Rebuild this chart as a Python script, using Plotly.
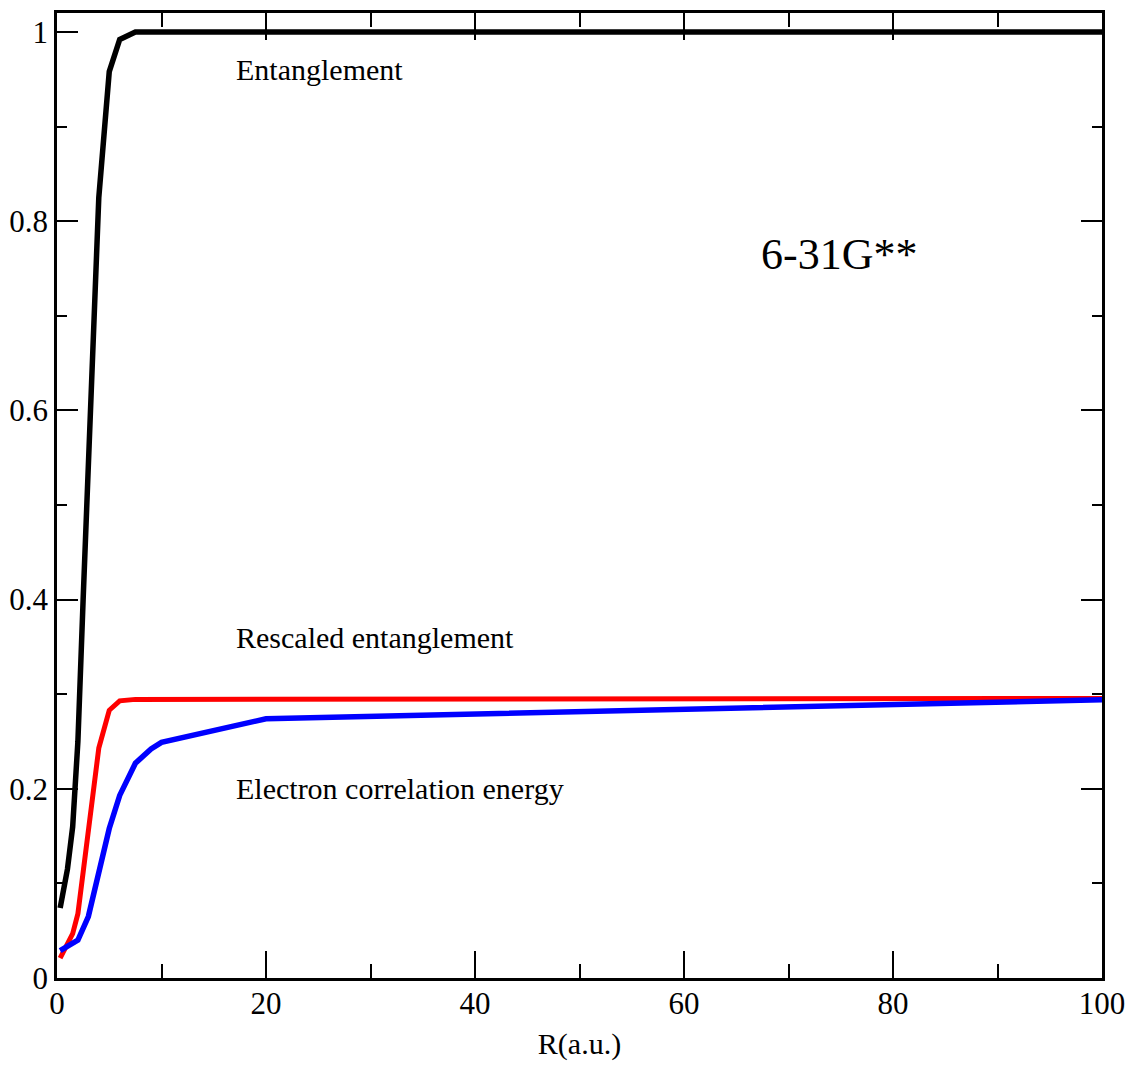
import plotly.graph_objects as go

# Data
R_ent = [0.3, 0.75, 1.0, 1.5, 2.0, 2.5, 3.0, 4.0, 5.0, 6.0, 7.5, 10, 20, 100]
entanglement = [0.074, 0.100, 0.115, 0.160, 0.250, 0.400, 0.555, 0.825, 0.958, 0.992, 1.0, 1.0, 1.0, 1.0]

R_res = [0.3, 1.0, 1.5, 2.0, 2.5, 3.0, 4.0, 5.0, 6.0, 7.5, 10, 20, 100]
rescaled = [0.021, 0.036, 0.047, 0.068, 0.112, 0.160, 0.243, 0.283, 0.293, 0.2945, 0.2945, 0.2948, 0.2955]

R_corr = [0.3, 1.0, 2.0, 3.0, 4.0, 5.0, 6.0, 7.5, 9.0, 10, 20, 100]
correlation = [0.029, 0.033, 0.040, 0.065, 0.110, 0.158, 0.193, 0.227, 0.242, 0.249, 0.274, 0.294]

labels = ["Entanglement", "Rescaled entanglement", "Electron correlation energy"]
label_x = [16.9, 16.9, 16.9]
label_y = [0.960, 0.360, 0.200]
basis_text = "6-31G**"
basis_x = 67.2
basis_y = 0.765

FONT = "Liberation Serif, Times New Roman, serif"

fig = go.Figure()
fig.add_trace(go.Scatter(x=R_ent, y=entanglement, mode="lines",
                         line=dict(color="black", width=5.5), name=labels[0]))
fig.add_trace(go.Scatter(x=R_res, y=rescaled, mode="lines",
                         line=dict(color="#ff0000", width=5), name=labels[1]))
fig.add_trace(go.Scatter(x=R_corr, y=correlation, mode="lines",
                         line=dict(color="#0000ff", width=5.5), name=labels[2]))

for t, xx, yy in zip(labels, label_x, label_y):
    fig.add_annotation(x=xx, y=yy, text=t, showarrow=False, xanchor="left",
                       yanchor="middle", font=dict(family=FONT, size=30, color="black"))
fig.add_annotation(x=basis_x, y=basis_y, text=basis_text, showarrow=False,
                   xanchor="left", yanchor="middle",
                   font=dict(family=FONT, size=44, color="black"))

fig.update_layout(
    template="none",
    width=1130, height=1068,
    margin=dict(l=57, r=28, t=13, b=90, autoexpand=False),
    paper_bgcolor="white", plot_bgcolor="white",
    showlegend=False,
    font=dict(family=FONT, color="black"),
)
fig.update_xaxes(
    automargin=False,
    range=[0, 100], dtick=20, tick0=0,
    showgrid=False, zeroline=False,
    showline=True, linecolor="black", linewidth=2.5, mirror="allticks",
    ticks="inside", ticklen=27, tickwidth=2, tickcolor="black",
    minor=dict(dtick=10, ticks="inside", ticklen=14, tickwidth=2, tickcolor="black", showgrid=False),
    tickfont=dict(family=FONT, size=31, color="black"),
    ticklabelstandoff=-4,
    ticklabeloverflow="allow",
    title=dict(text="R(a.u.)", font=dict(family=FONT, size=30, color="black"), standoff=14),
)
fig.update_yaxes(
    automargin=False,
    range=[0, 1.02], dtick=0.2, tick0=0,
    showgrid=False, zeroline=False,
    showline=True, linecolor="black", linewidth=2.5, mirror="allticks",
    ticks="inside", ticklen=21, tickwidth=2, tickcolor="black",
    minor=dict(dtick=0.1, ticks="inside", ticklen=10, tickwidth=2, tickcolor="black", showgrid=False),
    tickfont=dict(family=FONT, size=31, color="black"),
)

fig.write_html("out.html",
               config={"displayModeBar": False},
               post_script="document.body.style.margin='0';document.body.style.overflow='hidden';")
